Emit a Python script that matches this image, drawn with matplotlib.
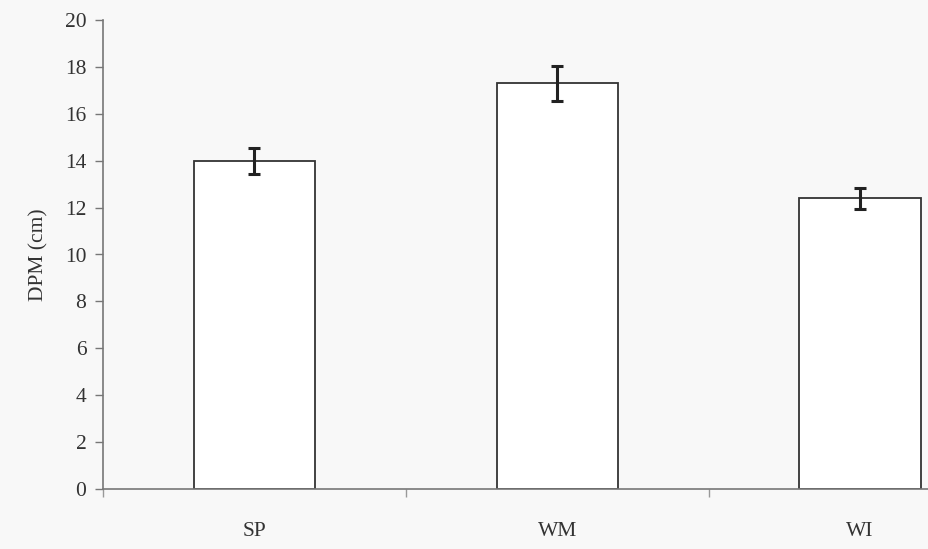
import numpy as np
from matplotlib import pyplot as plt

categories = ['SP', 'WM', 'WI']
means = [14.0, 17.3, 12.4]
errors = [0.55, 0.75, 0.45]
yticks = [0, 2, 4, 6, 8, 10, 12, 14, 16, 18, 20]

plt.rcParams['font.family'] = ['Liberation Serif', 'DejaVu Serif']

fig = plt.figure(figsize=(9.29, 5.49), dpi=100, facecolor='#f8f8f8')
ax = fig.add_axes([103 / 929, 60 / 549, 1 - 103 / 929, 469 / 549])
ax.set_facecolor('#f8f8f8')

x = np.arange(len(categories))
ax.bar(x, means, width=0.4, color='white', edgecolor='#333333', linewidth=1.3)
ax.errorbar(x, means, yerr=errors, fmt='none', ecolor='#222222',
            elinewidth=2.2, capsize=4.5, capthick=2.2)

ax.set_xlim(-0.5, 2.228)
ax.set_ylim(0, 20)
ax.set_yticks(yticks)
ax.tick_params(axis='y', direction='out', length=6, width=1, color='#777777',
               labelsize=15.5, labelcolor='#333333', pad=6)

# ticks between categories, labels under the bars
ax.set_xticks([-0.5, 0.5, 1.5])
ax.set_xticklabels([])
ax.set_xticks(x, minor=True)
ax.set_xticklabels(categories, minor=True)
ax.tick_params(axis='x', which='major', direction='out', length=6, width=1,
               color='#999999')
ax.tick_params(axis='x', which='minor', length=0, labelsize=15.5,
               labelcolor='#333333', pad=24)

ax.set_ylabel('DPM (cm)', fontsize=15.5, color='#333333', labelpad=12)

for s in ['top', 'right']:
    ax.spines[s].set_visible(False)
for s in ['left', 'bottom']:
    ax.spines[s].set_color('#777777')
    ax.spines[s].set_linewidth(1.2)

fig.savefig('out.png', dpi=100, facecolor=fig.get_facecolor())
